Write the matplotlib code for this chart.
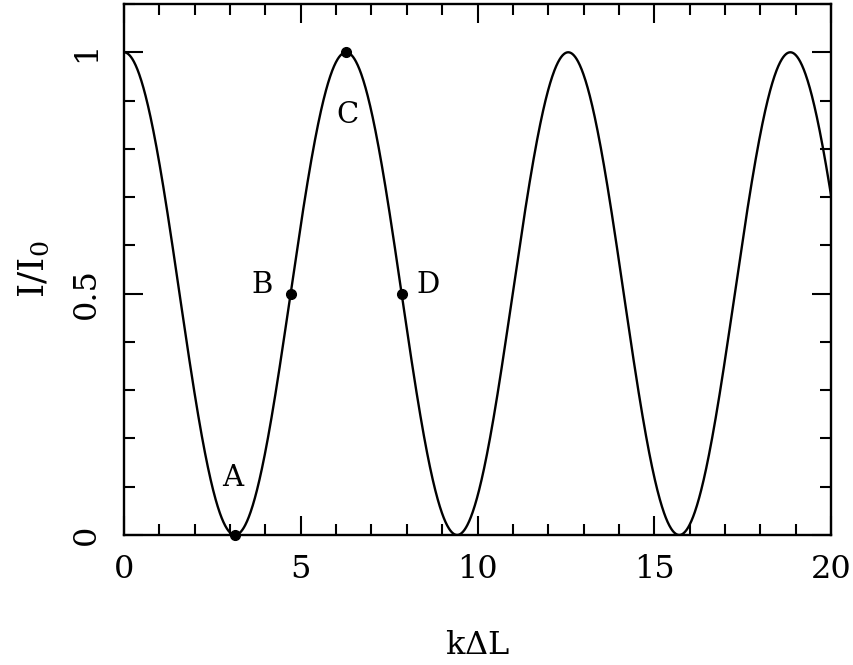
import numpy as np
import matplotlib
matplotlib.use("Agg")
import matplotlib.pyplot as plt
from matplotlib.ticker import MultipleLocator

# Data
period = 2 * np.pi          # k*dL period of I/I0 = cos^2(k dL / 2)
x_max = 20.0
point_x = [np.pi, 1.5 * np.pi, 2 * np.pi, 2.5 * np.pi]
point_y = [0.0, 0.5, 1.0, 0.5]
point_labels = ["A", "B", "C", "D"]
label_x = [3.08, 3.9, 6.31, 8.6]
label_y = [0.118, 0.518, 0.87, 0.518]
x_ticks = [0, 5, 10, 15, 20]
x_ticklabels = ["0", "5", "10", "15", "20"]
y_ticks = [0, 0.5, 1]
y_ticklabels = ["0", "0.5", "1"]

plt.rcParams['font.family'] = ['DejaVu Serif']
plt.rcParams['mathtext.fontset'] = 'dejavuserif'

fig = plt.figure(figsize=(8.54, 6.65), dpi=100)
ax = fig.add_axes([124/854, 130/665, 707/854, 531/665])

x = np.linspace(0, x_max, 2000)
y = np.cos(np.pi * x / period) ** 2
ax.plot(x, y, color='black', lw=1.7)
ax.plot(point_x, point_y, 'o', color='black', ms=7, clip_on=False, zorder=5)
for lx, ly, t in zip(label_x, label_y, point_labels):
    ax.text(lx, ly, t, ha='center', va='center', fontsize=21)

ax.set_xlim(0, 20)
ax.set_ylim(0, 1.1)
ax.xaxis.set_minor_locator(MultipleLocator(1))
ax.yaxis.set_minor_locator(MultipleLocator(0.1))
ax.set_xticks(x_ticks)
ax.set_xticklabels(x_ticklabels)
ax.set_yticks(y_ticks)
ax.set_yticklabels(y_ticklabels, rotation=90, va='center')
ax.tick_params(which='both', direction='in', top=True, right=True, labelsize=23, width=1.5)
ax.tick_params(axis='x', which='major', length=14, pad=14)
ax.tick_params(axis='y', which='major', length=14, pad=16)
ax.tick_params(which='minor', length=8)
for s in ax.spines.values():
    s.set_linewidth(1.7)

ax.set_xlabel(r"k$\Delta$L", fontsize=23, labelpad=32)
ax.set_ylabel(r"I/I$_0$", fontsize=26, labelpad=14)

fig.savefig("out.png", dpi=100)
